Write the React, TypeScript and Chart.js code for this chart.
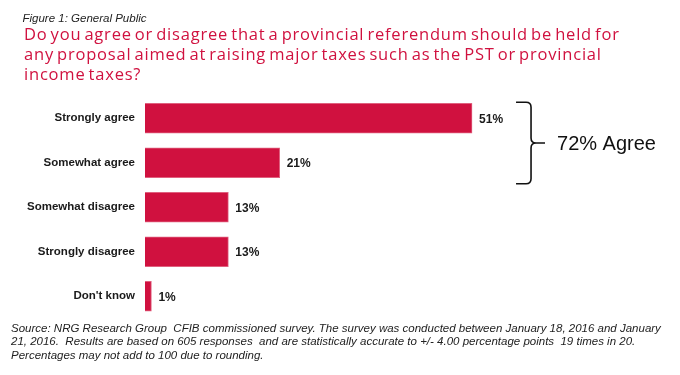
import React, { useEffect, useRef } from "react";
import { Chart, registerables } from "chart.js";

Chart.register(...registerables);

const categories = ["Strongly agree", "Somewhat agree", "Somewhat disagree", "Strongly disagree", "Don't know"];
const values = [51, 21, 13, 13, 1];
const valueLabels = ["51%", "21%", "13%", "13%", "1%"];
const figureLabel = "Figure 1: General Public";
const titleLines = [
  "Do you agree or disagree that a provincial referendum should be held for",
  "any proposal aimed at raising major taxes such as the PST or provincial",
  "income taxes?",
];
const braceLabel = "72% Agree";
const sourceLines = [
  "Source: NRG Research Group  CFIB commissioned survey. The survey was conducted between January 18, 2016 and January",
  "21, 2016.  Results are based on 605 responses  and are statistically accurate to +/- 4.00 percentage points  19 times in 20.",
  "Percentages may not add to 100 due to rounding.",
];

const RED = "#D0113F";
const FONT = "'Liberation Sans', Arial, sans-serif";
const TITLE_FONT = "'Open Sans', 'Noto Sans', sans-serif";

export default function App() {
  const ref = useRef<HTMLCanvasElement | null>(null);

  useEffect(() => {
    document.body.style.margin = "0";
    const canvas = ref.current;
    if (!canvas) return;

    const overlay = {
      id: "overlay",
      afterDatasetsDraw(chart: any) {
        const ctx = chart.ctx;
        const meta = chart.getDatasetMeta(0);
        ctx.save();
        ctx.fillStyle = "#1a1a1a";
        ctx.font = `bold 12px ${FONT}`;
        ctx.textBaseline = "middle";
        ctx.textAlign = "left";
        meta.data.forEach((el: any, i: number) => {
          ctx.fillText(valueLabels[i], el.x + 7, el.y + 1);
        });

        // brace
        const e0 = meta.data[0];
        const e1 = meta.data[1];
        const top = e0.y - e0.height / 2 - 1;
        const bot = e1.y + e1.height / 2 + 6;
        const mid = (top + bot) / 2;
        const xs = chart.scales.x.getPixelForValue(values[0]) + 44;
        const xv = xs + 15;
        const xt = xv + 14;
        const r = 5;
        ctx.strokeStyle = "#111";
        ctx.lineWidth = 1.6;
        ctx.beginPath();
        ctx.moveTo(xs, top);
        ctx.lineTo(xv - r, top);
        ctx.quadraticCurveTo(xv, top, xv, top + r);
        ctx.lineTo(xv, mid - r);
        ctx.quadraticCurveTo(xv, mid, xv + r, mid);
        ctx.lineTo(xt, mid);
        ctx.moveTo(xv + r, mid);
        ctx.quadraticCurveTo(xv, mid, xv, mid + r);
        ctx.lineTo(xv, bot - r);
        ctx.quadraticCurveTo(xv, bot, xv - r, bot);
        ctx.lineTo(xs, bot);
        ctx.stroke();

        ctx.fillStyle = "#111";
        ctx.font = `20px ${FONT}`;
        ctx.textBaseline = "middle";
        ctx.fillText(braceLabel, xt + 12, mid + 1);
        ctx.restore();
      },
    };

    const chart = new Chart(canvas, {
      type: "bar",
      data: {
        labels: categories,
        datasets: [
          {
            data: values,
            backgroundColor: RED,
            borderColor: "#E0607E",
            borderWidth: 1,
            barThickness: 30,
          },
        ],
      },
      options: {
        indexAxis: "y",
        responsive: false,
        animation: false,
        layout: { padding: { left: 0, right: 22, top: 96, bottom: 56.5 } },
        plugins: { legend: { display: false }, tooltip: { enabled: false } },
        scales: {
          x: { display: false, min: 0, max: 80 },
          y: {
            grid: { display: false, drawTicks: false },
            border: { display: false },
            ticks: {
              padding: 10,
              color: "#1a1a1a",
              font: { family: FONT, size: 11.5, weight: "bold" },
            },
            afterFit: (s: any) => {
              s.width = 145;
            },
          },
        },
      },
      plugins: [overlay],
    });
    return () => chart.destroy();
  }, []);

  return (
    <div style={{ position: "absolute", left: 0, top: 0, width: 680, height: 375, background: "#fff", overflow: "hidden" }}>
      <canvas ref={ref} width={680} height={375} style={{ position: "absolute", left: 0, top: 0 }} />
      <div style={{ position: "absolute", left: 22.5, top: 11.6, fontFamily: FONT, fontStyle: "italic", fontSize: 11.5, color: "#222", whiteSpace: "nowrap" }}>
        {figureLabel}
      </div>
      <div style={{ position: "absolute", left: 24, top: 24.4, fontFamily: TITLE_FONT, fontSize: 16.5, lineHeight: "19.7px", color: RED, whiteSpace: "nowrap", letterSpacing: 0.8, wordSpacing: -2 }}>
        {titleLines.map((l, i) => (
          <div key={i}>{l}</div>
        ))}
      </div>
      <div style={{ position: "absolute", left: 11, top: 321.5, fontFamily: FONT, fontStyle: "italic", fontSize: 11.5, lineHeight: "13.5px", color: "#222", whiteSpace: "pre" }}>
        {sourceLines.map((l, i) => (
          <div key={i}>{l}</div>
        ))}
      </div>
    </div>
  );
}
